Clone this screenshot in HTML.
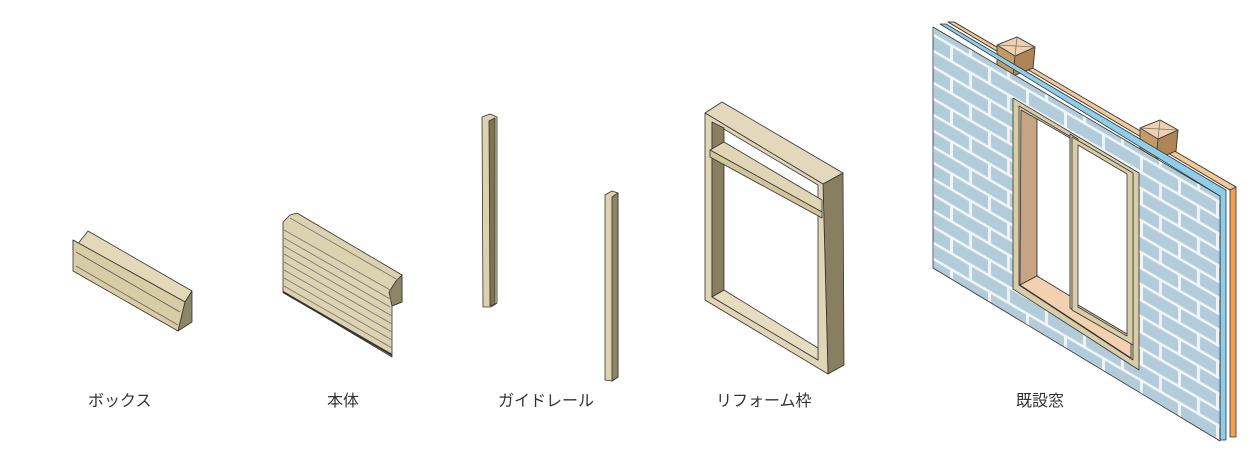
<!DOCTYPE html>
<html><head><meta charset="utf-8"><style>
html,body{margin:0;padding:0;background:#fff;width:1260px;height:462px;overflow:hidden}
svg{display:block}
text{font-family:"Liberation Sans","Noto Sans CJK JP",sans-serif;font-size:16px;fill:#333}
</style></head><body>
<svg width="1260" height="462" viewBox="0 0 1260 462" xmlns="http://www.w3.org/2000/svg">
<defs>
<pattern id="brick" width="38" height="32" patternUnits="userSpaceOnUse" patternTransform="skewY(30.3)">
<rect width="38" height="32" fill="#b3ccd9"/>
<rect x="0" y="0" width="38" height="3" fill="#eef4f7"/>
<rect x="0" y="16" width="38" height="3" fill="#eef4f7"/>
<rect x="0" y="0" width="3" height="16" fill="#eef4f7"/>
<rect x="19" y="16" width="3" height="16" fill="#eef4f7"/>
</pattern>
</defs>
<g stroke="#333" stroke-width="0.8" stroke-linejoin="round">
<!-- Box -->
<polygon points="73,250 88,231 192,291 185,302 73,240" fill="#e3d8b8"/>
<polygon points="73,240 185,302 178,331 73,271" fill="#d8cca5"/>
<line x1="76" y1="252" x2="180" y2="312" stroke="#555"/>
<line x1="76" y1="266" x2="178" y2="325" stroke="#666"/>
<polygon points="185,302 192,291 192,322 178,331" fill="#8d8565"/>
<!-- Body -->
<polygon points="283,222 290,215 297,213 402,275 402,302 392,306 392,357 283,292" fill="#ddd2b0"/>
<polygon points="396,281 402,275 402,302 392,306 389,292" fill="#8d8565"/>
<g stroke="#777" stroke-width="0.9">
<line x1="284" y1="230" x2="392" y2="291"/><line x1="284" y1="238" x2="392" y2="300"/>
<line x1="290" y1="218" x2="398" y2="280"/><line x1="284" y1="246" x2="390" y2="307"/>
<line x1="284" y1="254" x2="392" y2="316"/><line x1="284" y1="262" x2="392" y2="324"/>
<line x1="284" y1="270" x2="392" y2="332"/><line x1="284" y1="278" x2="392" y2="340"/>
<line x1="284" y1="286" x2="392" y2="348"/>
</g>
<line x1="283" y1="292" x2="392" y2="355" stroke="#333" stroke-width="2"/>
<!-- Guide rails -->
<polygon points="482,117 490,114 497,117 497,303 491,307 483,307" fill="#ddd2ad"/>
<polygon points="489,121 495,118 495,304 490,306" fill="#7e7450"/>
<polygon points="605,195 612,191 618,193 618,377 612,381 605,380" fill="#ddd2ad"/>
<polygon points="612,197 618,193 618,377 612,381" fill="#8d8565"/>
<!-- Reform frame -->
<polygon points="705,113 722,102 843,173 823,184" fill="#e3d8bb"/>
<polygon points="823,184 843,173 844,365 828,374" fill="#877f60"/>
<path d="M705,113 L823,184 L828,374 L705,300 Z M712,122 L818,185 L818,360 L712,297 Z" fill="#e0d5b5" fill-rule="evenodd"/>
<polygon points="712,122 724,128 724,290 712,297" fill="#877f60"/>
<polygon points="712,297 724,290 818,348 818,360" fill="#e6dcc0"/>
<polygon points="710,150 724,142 822,200 822,212 " fill="#e0d5b5"/>
<polygon points="710,150 822,212 822,218 710,157" fill="#d2c59c"/>
<!-- Wall: back orange -->
<polygon points="948,22 954,22 1236,187 1236,437 1230,437 1230,190" fill="#f0a050"/>
<polygon points="948,22 954,22 1236,187 1230,190" fill="#f4c99a"/>
<!-- studs (cubes) -->
<polygon points="997,45 1017,37 1035,47 1033,68 1013,76 997,66" fill="#c39a68"/>
<polygon points="1015,56 1035,47 1033,68 1013,76" fill="#b08555"/>
<polygon points="997,45 1017,37 1035,47 1015,56" fill="#f0d0ae"/>
<line x1="997" y1="45" x2="1035" y2="47" stroke="#777"/><line x1="1017" y1="37" x2="1015" y2="56" stroke="#777"/>
<polygon points="1140,128 1160,120 1178,130 1176,151 1156,159 1140,149" fill="#c39a68"/>
<polygon points="1158,139 1178,130 1176,151 1156,159" fill="#b08555"/>
<polygon points="1140,128 1160,120 1178,130 1158,139" fill="#f0d0ae"/>
<line x1="1140" y1="128" x2="1178" y2="130" stroke="#777"/><line x1="1160" y1="120" x2="1158" y2="139" stroke="#777"/>
<!-- blue layer -->
<polygon points="940,24 946,24 1226,190 1226,440 1220,440 1220,196" fill="#8fcde8"/>
<!-- front wall -->
<polygon points="933,27 1220,196 1220,441 933,268" fill="url(#brick)"/>
<!-- window frame -->
<polygon points="1013,98 1139,173 1139,370 1013,289" fill="#d8cda8"/>
<polygon points="1019,106 1133,174 1133,360 1019,285" fill="#d8cda8"/>
<polygon points="1021,110 1037,119 1037,276 1020,285" fill="#c8a486"/>
<polygon points="1020,285 1037,276 1131,331 1131,358" fill="#f2d0b0"/>
<polygon points="1037,119 1070,138 1070,296 1037,276" fill="#fff"/>
<polygon points="1070,134 1078,139 1078,313 1070,308" fill="#d8cda8"/>
<polygon points="1072,137 1133,173 1133,345 1072,310" fill="#d8cda8"/>
<polygon points="1078,145 1127,174 1127,334 1078,305" fill="#fff"/>
<polygon points="1078,305 1127,334 1127,336 1078,307" fill="#f2d0b0"/>
</g>
<text x="88" y="406">ボックス</text>
<text x="327" y="406">本体</text>
<text x="498" y="406">ガイドレール</text>
<text x="716" y="406">リフォーム枠</text>
<text x="1016" y="406">既設窓</text>
</svg>
</body></html>
